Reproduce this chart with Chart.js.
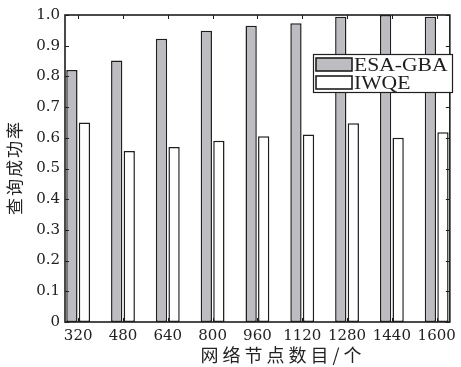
<!DOCTYPE html>
<html>
<head>
<meta charset="utf-8">
<script src="https://cdn.jsdelivr.net/npm/chart.js@4"></script>
<style>
  html, body { margin: 0; padding: 0; background: #fff; }
  #wrap { width: 461px; height: 367px; }
</style>
</head>
<body>
<div id="wrap"><canvas id="c" width="461" height="367"></canvas></div>
<script>
// values
const categories = [320, 480, 640, 800, 960, 1120, 1280, 1440, 1600];
const esaGba = [0.821, 0.852, 0.923, 0.949, 0.965, 0.973, 0.994, 1.0, 0.994];
const iwqe = [0.650, 0.557, 0.570, 0.590, 0.605, 0.611, 0.647, 0.600, 0.618];
const yTicks = [0, 0.1, 0.2, 0.3, 0.4, 0.5, 0.6, 0.7, 0.8, 0.9, 1.0];
const seriesNames = ["ESA-GBA", "IWQE"];
const xTitle = "网络节点数目/个";
const yTitle = "查询成功率";

const ink = "#1e1e1e";
const grayFill = "#bdbdc1";

const toPoints = (vals) => vals.map((v, i) => ({ x: categories[i], y: v }));

// frame, inward tick marks, legend and axis titles
const decorations = {
  id: "decorations",
  afterDraw(chart) {
    const { ctx, chartArea: a, scales } = chart;
    ctx.save();
    ctx.strokeStyle = ink;
    ctx.lineWidth = 1;
    // inward ticks
    ctx.beginPath();
    yTicks.forEach((t) => {
      const y = Math.round(scales.y.getPixelForValue(t)) + 0.5;
      ctx.moveTo(a.left, y); ctx.lineTo(a.left + 4, y);
      ctx.moveTo(a.right, y); ctx.lineTo(a.right - 4, y);
    });
    categories.forEach((c) => {
      const x = Math.round(scales.x.getPixelForValue(c)) + 0.5;
      ctx.moveTo(x, a.top); ctx.lineTo(x, a.top + 4);
      ctx.moveTo(x, a.bottom); ctx.lineTo(x, a.bottom - 4);
    });
    ctx.stroke();
    // box
    ctx.lineWidth = 1.6;
    ctx.strokeRect(a.left, a.top, a.right - a.left, a.bottom - a.top);

    // legend
    const lx = 313, ly = 54, lw = 139, lh = 38;
    ctx.fillStyle = "#fff";
    ctx.fillRect(lx, ly, lw, lh);
    ctx.lineWidth = 1.2;
    ctx.strokeRect(lx + 0.5, ly + 0.5, lw, lh);
    const fills = [grayFill, "#fff"];
    seriesNames.forEach((name, i) => {
      const sy = ly + 4 + i * 18;
      ctx.fillStyle = fills[i];
      ctx.fillRect(lx + 3, sy, 36, 13);
      ctx.lineWidth = 1.6;
      ctx.strokeStyle = ink;
      ctx.strokeRect(lx + 3, sy, 36, 13);
      ctx.save();
      ctx.translate(lx + 41, sy + 13);
      ctx.scale(1.2, 1);
      ctx.fillStyle = ink;
      ctx.font = "18px 'Liberation Serif'";
      ctx.textBaseline = "alphabetic";
      ctx.fillText(name, 0, 0);
      ctx.restore();
    });

    // axis titles
    ctx.fillStyle = "#222";
    ctx.font = "18px 'Noto Sans CJK SC'";
    ctx.textAlign = "center";
    ctx.textBaseline = "middle";
    ctx.letterSpacing = "4px";
    ctx.fillText(xTitle, 283, 355);
    ctx.save();
    ctx.translate(15, (a.top + a.bottom) / 2);
    ctx.rotate(-Math.PI / 2);
    ctx.font = "17px 'Noto Sans CJK SC'";
    ctx.letterSpacing = "2px";
    ctx.fillText(yTitle, 1, 0);
    ctx.restore();
    ctx.restore();
  }
};

new Chart(document.getElementById("c"), {
  type: "bar",
  data: {
    datasets: [
      {
        label: seriesNames[0],
        data: toPoints(esaGba),
        backgroundColor: grayFill,
        borderColor: ink,
        borderWidth: 1.5,
        borderSkipped: false,
      },
      {
        label: seriesNames[1],
        data: toPoints(iwqe),
        backgroundColor: "#fff",
        borderColor: ink,
        borderWidth: 1.5,
        borderSkipped: false,
      },
    ],
  },
  options: {
    responsive: false,
    animation: false,
    categoryPercentage: 0.56,
    barPercentage: 0.9,
    layout: { padding: { top: 15, right: 7, left: 0, bottom: 0 } },
    plugins: {
      legend: { display: false },
      tooltip: { enabled: false },
    },
    scales: {
      x: {
        type: "linear",
        offset: false,
        min: 273,
        max: 1647,
        afterBuildTicks: (s) => { s.ticks = categories.map((v) => ({ value: v })); },
        afterFit: (s) => { s.height = 45; },
        grid: { display: false, drawTicks: false, offset: false },
        border: { display: false },
        ticks: {
          padding: 5,
          color: "#222",
          font: { family: "DejaVu Serif", size: 15 },
          maxRotation: 0,
          autoSkip: false,
          callback: (v) => String(v),
        },
      },
      y: {
        min: 0,
        max: 1,
        afterBuildTicks: (s) => { s.ticks = yTicks.map((v) => ({ value: v })); },
        afterFit: (s) => { s.width = 65; },
        grid: { display: false, drawTicks: false },
        border: { display: false },
        ticks: {
          padding: 5,
          color: "#222",
          font: { family: "DejaVu Serif", size: 15 },
          callback: (v) => (v === 0 ? "0" : v.toFixed(1)),
        },
      },
    },
  },
  plugins: [decorations],
});
</script>
</body>
</html>
